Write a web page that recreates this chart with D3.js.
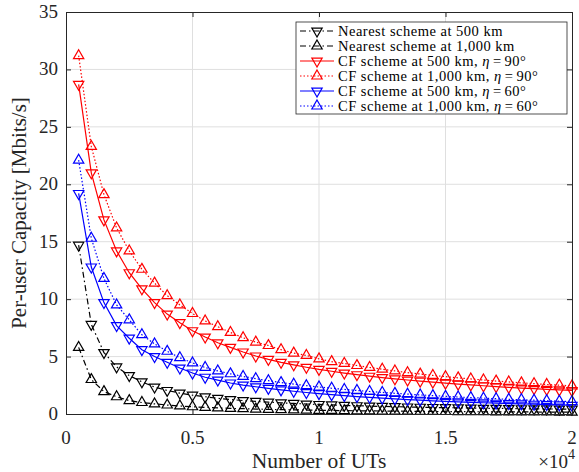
<!DOCTYPE html>
<html>
<head>
<meta charset="utf-8">
<script src="https://cdn.jsdelivr.net/npm/d3@7"></script>
<style>
body { margin: 0; background: #fff; }
svg { display: block; font-family: "Liberation Serif", "Times New Roman", serif; }
</style>
</head>
<body>
<svg width="579" height="472"></svg>
<script>
"use strict";

const numUTs = [500, 1000, 1500, 2000, 2500, 3000, 3500, 4000, 4500, 5000,
    5500, 6000, 6500, 7000, 7500, 8000, 8500, 9000, 9500, 10000,
    10500, 11000, 11500, 12000, 12500, 13000, 13500, 14000, 14500, 15000,
    15500, 16000, 16500, 17000, 17500, 18000, 18500, 19000, 19500, 20000];

const nearest500 = [14.7, 7.8, 5.35, 4.1, 3.35, 2.8, 2.35, 2.05, 1.82, 1.64,
    1.5, 1.37, 1.26, 1.17, 1.1, 1.03, 0.97, 0.92, 0.87, 0.83,
    0.79, 0.75, 0.72, 0.69, 0.66, 0.64, 0.61, 0.59, 0.57, 0.55,
    0.54, 0.52, 0.5, 0.49, 0.475, 0.46, 0.45, 0.44, 0.43, 0.42];
const nearest1000 = [5.8, 3.0, 1.95, 1.5, 1.17, 1.0, 0.88, 0.78, 0.7, 0.63,
    0.58, 0.53, 0.49, 0.46, 0.43, 0.4, 0.38, 0.36, 0.34, 0.32,
    0.31, 0.29, 0.28, 0.27, 0.26, 0.25, 0.24, 0.23, 0.22, 0.215,
    0.21, 0.2, 0.195, 0.19, 0.185, 0.18, 0.175, 0.17, 0.165, 0.16];
const cf500eta90 = [28.7, 21.0, 16.9, 14.2, 12.3, 10.9, 9.7, 8.7, 7.95, 7.25,
    6.7, 6.2, 5.8, 5.4, 5.05, 4.75, 4.5, 4.28, 4.07, 3.88,
    3.72, 3.56, 3.42, 3.29, 3.17, 3.06, 2.96, 2.86, 2.77, 2.68,
    2.6, 2.53, 2.46, 2.39, 2.32, 2.26, 2.21, 2.15, 2.1, 2.05];
const cf1000eta90 = [31.2, 23.3, 19.1, 16.2, 14.2, 12.6, 11.4, 10.3, 9.5, 8.75,
    8.1, 7.6, 7.1, 6.64, 6.26, 5.96, 5.6, 5.3, 5.1, 4.8,
    4.56, 4.4, 4.22, 4.05, 3.9, 3.75, 3.6, 3.48, 3.36, 3.25,
    3.15, 3.05, 2.96, 2.87, 2.79, 2.71, 2.64, 2.57, 2.51, 2.45];
const cf500eta60 = [19.2, 12.8, 9.7, 7.7, 6.6, 5.6, 5.0, 4.5, 4.0, 3.57,
    3.2, 2.95, 2.7, 2.52, 2.37, 2.23, 2.1, 1.98, 1.87, 1.77,
    1.68, 1.6, 1.52, 1.45, 1.38, 1.32, 1.26, 1.2, 1.15, 1.1,
    1.06, 1.02, 0.98, 0.94, 0.91, 0.88, 0.85, 0.82, 0.79, 0.76];
const cf1000eta60 = [22.1, 15.3, 11.8, 9.5, 8.2, 6.9, 6.1, 5.46, 4.9, 4.45,
    4.05, 3.75, 3.5, 3.27, 3.07, 2.9, 2.74, 2.6, 2.47, 2.35,
    2.24, 2.14, 2.05, 1.96, 1.88, 1.8, 1.73, 1.66, 1.6, 1.54,
    1.48, 1.43, 1.38, 1.33, 1.28, 1.24, 1.2, 1.16, 1.12, 1.08];

const xTicks = [0, 5000, 10000, 15000, 20000];
const xTickLabels = ["0", "0.5", "1", "1.5", "2"];
const yTicks = [0, 5, 10, 15, 20, 25, 30, 35];

const series = [
    {name: "Nearest scheme at 500 km", eta: null, values: nearest500, color: "#000", dash: "6,3,1.5,3", marker: "down"},
    {name: "Nearest scheme at 1,000 km", eta: null, values: nearest1000, color: "#000", dash: "6,3,1.5,3", marker: "up"},
    {name: "CF scheme at 500 km, ", eta: "90", values: cf500eta90, color: "#ff0000", dash: null, marker: "down"},
    {name: "CF scheme at 1,000 km, ", eta: "90", values: cf1000eta90, color: "#ff0000", dash: "1.5,2", marker: "up"},
    {name: "CF scheme at 500 km, ", eta: "60", values: cf500eta60, color: "#0000ff", dash: null, marker: "down"},
    {name: "CF scheme at 1,000 km, ", eta: "60", values: cf1000eta60, color: "#0000ff", dash: "1.5,2", marker: "up"}
];

const svg = d3.select("svg");
const plotL = 66, plotR = 572, plotT = 12, plotB = 414;
const axisColor = "#262626";

const x = d3.scaleLinear().domain([0, 20000]).range([plotL, plotR]);
const y = d3.scaleLinear().domain([0, 35]).range([plotB, plotT]);

svg.append("rect").attr("width", 579).attr("height", 472).attr("fill", "#fff");

// grid
svg.append("g").selectAll("line").data(xTicks.slice(1, -1)).join("line")
    .attr("x1", d => x(d)).attr("x2", d => x(d))
    .attr("y1", plotT).attr("y2", plotB)
    .attr("stroke", "#dfdfdf").attr("stroke-width", 1);
svg.append("g").selectAll("line").data(yTicks.slice(1, -1)).join("line")
    .attr("x1", plotL).attr("x2", plotR)
    .attr("y1", d => y(d)).attr("y2", d => y(d))
    .attr("stroke", "#dfdfdf").attr("stroke-width", 1);

// curves
const line = d3.line().x((d, i) => x(numUTs[i])).y(d => y(d));
const triUp = d3.symbol(d3.symbolTriangle, 46)();

series.forEach(s => {
    svg.append("path")
        .attr("d", line(s.values))
        .attr("fill", "none")
        .attr("stroke", s.color)
        .attr("stroke-width", 1.2)
        .attr("stroke-dasharray", s.dash);
    svg.append("g").selectAll("path").data(s.values).join("path")
        .attr("d", triUp)
        .attr("transform", (d, i) => `translate(${x(numUTs[i])},${y(d)})` + (s.marker === "down" ? " rotate(180)" : ""))
        .attr("fill", "none")
        .attr("stroke", s.color)
        .attr("stroke-width", 1.2);
});

// axes box with inward ticks
const xAxisB = d3.axisBottom(x).tickValues(xTicks).tickSizeInner(-5).tickSizeOuter(0).tickFormat("");
const xAxisT = d3.axisTop(x).tickValues(xTicks).tickSizeInner(-5).tickSizeOuter(0).tickFormat("");
const yAxisL = d3.axisLeft(y).tickValues(yTicks).tickSizeInner(-5).tickSizeOuter(0).tickFormat("");
const yAxisR = d3.axisRight(y).tickValues(yTicks).tickSizeInner(-5).tickSizeOuter(0).tickFormat("");
[[xAxisB, `translate(0,${plotB})`], [xAxisT, `translate(0,${plotT})`],
 [yAxisL, `translate(${plotL},0)`], [yAxisR, `translate(${plotR},0)`]].forEach(([ax, tr]) => {
    const g = svg.append("g").attr("transform", tr).call(ax);
    g.selectAll("path, line").attr("stroke", axisColor).attr("stroke-width", 1);
});

// tick labels
svg.append("g").selectAll("text").data(xTicks).join("text")
    .attr("x", d => x(d)).attr("y", plotB + 30)
    .attr("text-anchor", "middle")
    .attr("font-size", 19).attr("fill", axisColor)
    .text((d, i) => xTickLabels[i]);
svg.append("g").selectAll("text").data(yTicks).join("text")
    .attr("x", plotL - 8).attr("y", d => y(d) + 6)
    .attr("text-anchor", "end")
    .attr("font-size", 19).attr("fill", axisColor)
    .text(d => d);

// x10^4
const mult = svg.append("text").attr("x", 575).attr("y", 468)
    .attr("text-anchor", "end").attr("font-size", 19).attr("fill", axisColor);
mult.append("tspan").text("\u00d710");
mult.append("tspan").attr("font-size", 14).attr("dy", -9).text("4");

// axis labels
svg.append("text")
    .attr("x", (plotL + plotR) / 2).attr("y", 468)
    .attr("text-anchor", "middle").attr("font-size", 21.5).attr("fill", axisColor)
    .text("Number of UTs");
svg.append("text")
    .attr("transform", `translate(26,${(plotT + plotB) / 2}) rotate(-90)`)
    .attr("text-anchor", "middle").attr("font-size", 21).attr("fill", axisColor)
    .text("Per-user Capacity [Mbits/s]");

// legend
const lgX = 296, lgY = 22, lgW = 271, rowH = 15;
const lgH = rowH * series.length + 2;
svg.append("rect").attr("x", lgX).attr("y", lgY).attr("width", lgW).attr("height", lgH)
    .attr("fill", "#fff").attr("stroke", axisColor).attr("stroke-width", 0.8);

series.forEach((s, i) => {
    const cy = lgY + 9 + i * rowH;
    svg.append("line").attr("x1", lgX + 4).attr("x2", lgX + 38).attr("y1", cy).attr("y2", cy)
        .attr("stroke", s.color).attr("stroke-width", 1.2).attr("stroke-dasharray", s.dash);
    svg.append("path").attr("d", triUp)
        .attr("transform", `translate(${lgX + 21},${cy})` + (s.marker === "down" ? " rotate(180)" : ""))
        .attr("fill", "none").attr("stroke", s.color).attr("stroke-width", 1.2);
    const t = svg.append("text").attr("x", lgX + 42).attr("y", cy + 5)
        .attr("font-size", 14.5).attr("letter-spacing", 0.5).attr("fill", "#000");
    t.append("tspan").text(s.name);
    if (s.eta) {
        t.append("tspan").attr("font-style", "italic").text("\u03b7");
        t.append("tspan").attr("dx", 3).text("=");
        t.append("tspan").attr("dx", 3).text(s.eta + "\u00b0");
    }
});
</script>
</body>
</html>
